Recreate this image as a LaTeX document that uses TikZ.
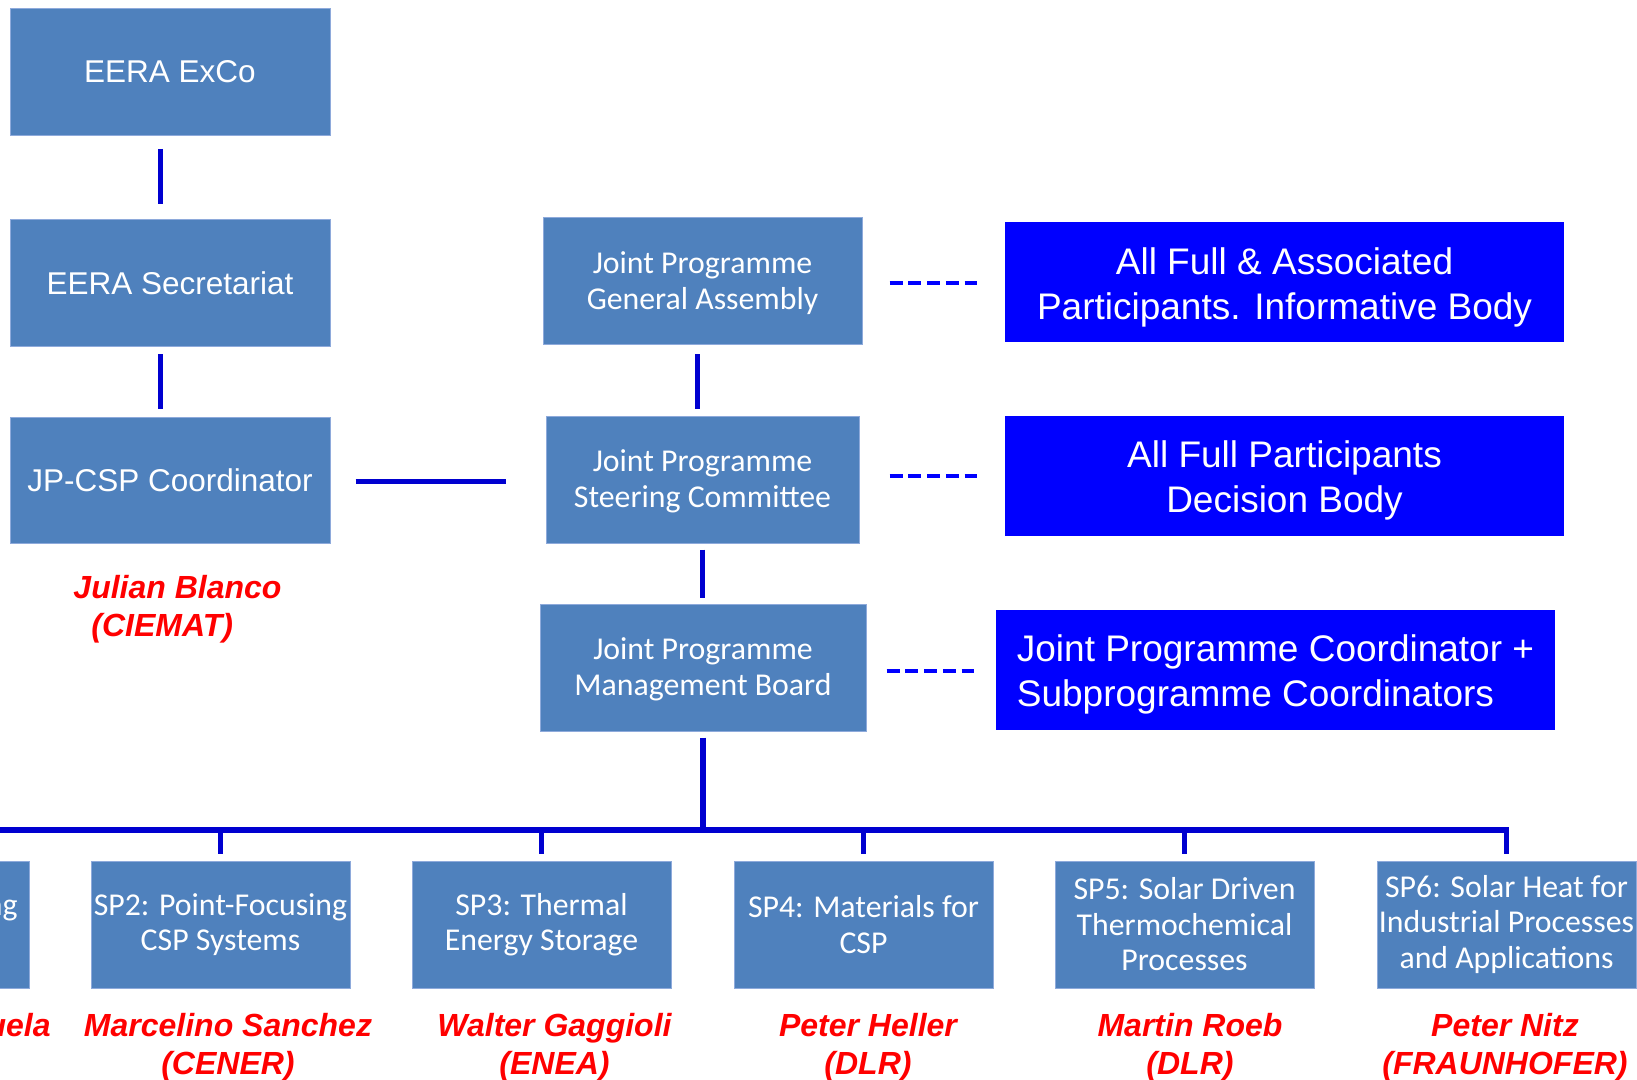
\documentclass[tikz,border=0pt]{standalone}
\usepackage{fontspec}
\newfontfamily\arialfont{Liberation Sans}
\newfontfamily\calfont{Carlito}
\usetikzlibrary{positioning, calc}
\definecolor{boxblue}{HTML}{4F81BD}
\definecolor{boxedge}{HTML}{8EAADB}
\definecolor{linkblue}{HTML}{0000D0}
\definecolor{bodyblue}{HTML}{0000FF}
\newcommand{\bodystrut}{\rule{0pt}{18pt}}
\newcommand{\jpstrut}{\rule{0pt}{12.5pt}}
\tikzset{
  box/.style={rectangle, inner sep=0pt, text=white, align=center},
  unit/.style={box, fill=boxblue, draw=boxedge, line width=0.5pt, minimum width=160pt, minimum height=63.5pt, font=\arialfont\fontsize{15.75}{18}\selectfont},
  jp/.style={box, fill=boxblue, draw=boxedge, line width=0.5pt, minimum height=63.5pt, font=\calfont\fontsize{15.9}{17.75}\selectfont},
  sp/.style={jp, minimum width=129.5pt},
  body/.style={box, fill=bodyblue, minimum width=279.5pt, minimum height=60pt, font=\arialfont\fontsize{18.5}{22.5}\selectfont},
  lead/.style={text=red, align=center, inner sep=0pt, font=\arialfont\bfseries\itshape\fontsize{16}{18.8}\selectfont},
  link/.style={draw=linkblue, line width=2.5pt},
  tie/.style={draw=bodyblue, line width=2pt, dash pattern=on 6.5pt off 2.875pt},
  bus/.style={draw=linkblue, line width=2.75pt},
  drop/.style={draw=linkblue, line width=2.25pt},
}

\begin{document}
\begin{tikzpicture}[x=0.5pt, y=-0.5pt]
  \useasboundingbox (0,0) rectangle (1637,1080);
  \clip (0,0) rectangle (1637,1080);

  % EERA side
  \node[unit] (exco) at (170,72) {EERA ExCo};
  \node[unit] (sec) at (170,283.5) {EERA Secretariat};
  \node[unit, minimum height=63pt] (coord) at (170,480) {JP-CSP Coordinator};
  \node[lead, align=left] (blanco) at (177.5,609) {Julian Blanco\\\hspace*{9pt}(CIEMAT)};

  % joint programme bodies
  \node[jp, minimum width=159.5pt] (ga) at (702.5,281.5) {\jpstrut Joint Programme\\General Assembly};
  \node[jp, minimum width=156.5pt] (sc) at (702.5,479.5) {\jpstrut Joint Programme\\Steering Committee};
  \node[jp, minimum width=163pt] (mb) at (703,667.5) {\jpstrut Joint Programme\\Management Board};
  \node[body] (info) at (1284.5,282.5) {\bodystrut All Full \& Associated\\Participants. Informative Body};
  \node[body] (dec) at (1284.5,476) {\bodystrut All Full Participants\\Decision Body};
  \node[body, align=left] (coordbody) at (1275.5,670) {\bodystrut Joint Programme Coordinator +\\Subprogramme Coordinators};

  % subprogrammes
  \node[sp] (sp1) at (-100.5,924.5) {};
  \node[box, anchor=base east, font=\calfont\fontsize{15.9}{17.75}\selectfont] (sp1txt) at (18,915) {ng};
  \node[sp] (sp2) at (220.5,924.5) {SP2: Point-Focusing\\CSP Systems};
  \node[sp] (sp3) at (541.5,924.5) {SP3: Thermal\\Energy Storage};
  \node[sp] (sp4) at (863.5,924.5) {SP4: Materials for\\CSP};
  \node[sp] (sp5) at (1184.5,924.5) {SP5: Solar Driven\\Thermochemical\\Processes};
  \node[sp] (sp6) at (1506.5,924.5) {SP6: Solar Heat for\\Industrial Processes\\and Applications};

  \node[lead, anchor=base east] (nm1) at (51,1036) {uela};
  \node[lead] (nm2) at (228,1047) {Marcelino Sanchez\\(CENER)};
  \node[lead] (nm3) at (554.5,1047) {Walter Gaggioli\\(ENEA)};
  \node[lead] (nm4) at (868,1047) {Peter Heller\\(DLR)};
  \node[lead] (nm5) at (1190,1047) {Martin Roeb\\(DLR)};
  \node[lead] (nm6) at (1505,1047) {Peter Nitz\\(FRAUNHOFER)};

  % links
  \draw[link, shorten <=6.5pt, shorten >=7.5pt] ([xshift=-5pt]exco.south) -- ([xshift=-5pt]sec.north);
  \draw[link, shorten <=3.5pt, shorten >=4pt] ([xshift=-5pt]sec.south) -- ([xshift=-5pt]coord.north);
  \draw[link, shorten <=12.5pt, shorten >=20pt] ([yshift=-0.5pt]coord.east) -- ([yshift=-0.5pt]coord.east -| sc.west);
  \draw[link, shorten <=4.5pt, shorten >=3.5pt] ([xshift=-2.75pt]ga.south) -- ([xshift=-2.75pt]sc.north);
  \draw[link, shorten <=3pt, shorten >=3pt] (sc.south) -- (sc.south |- mb.north);

  \draw[tie, shorten <=13.5pt, shorten >=14pt] ([yshift=-1pt]ga.east) -- ([yshift=-1pt]ga.east -| info.west);
  \draw[tie, shorten <=15pt, shorten >=14pt] (dec.west -| sc.east) -- (dec.west);
  \draw[tie, shorten <=10pt, shorten >=11pt] ([yshift=-1.5pt]mb.east) -- ([yshift=-1.5pt]mb.east -| coordbody.west);

  % bus to the subprogrammes
  \coordinate (hub) at (703,830);
  \draw[bus, line width=3pt, shorten <=3pt] (mb) -- (hub);
  \draw[bus] (sp1 |- hub) -- (sp6 |- hub) -- ([yshift=3.5pt]sp6.north);
  \draw[drop, shorten >=3.5pt] (sp2 |- hub) -- (sp2);
  \draw[drop, shorten >=3.5pt] (sp3 |- hub) -- (sp3);
  \draw[drop, shorten >=3.5pt] (sp4 |- hub) -- (sp4);
  \draw[drop, shorten >=3.5pt] (sp5 |- hub) -- (sp5);
\end{tikzpicture}
\end{document}
